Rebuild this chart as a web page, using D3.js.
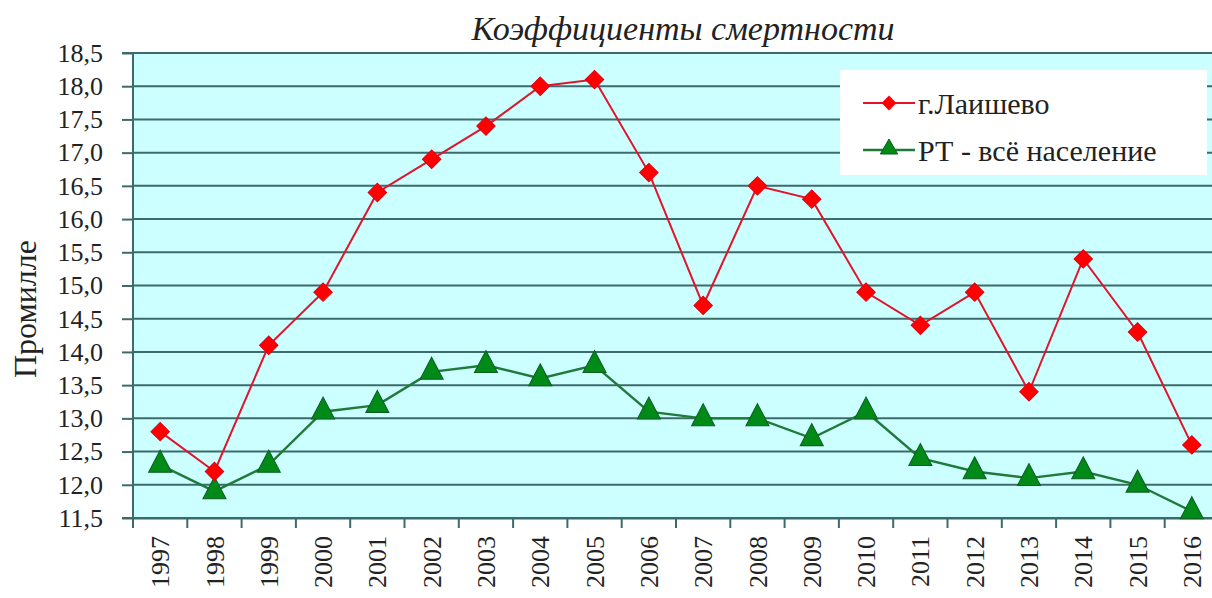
<!DOCTYPE html>
<html><head><meta charset="utf-8">
<script src="https://cdn.jsdelivr.net/npm/d3@7"></script>
<style>body{margin:0;background:#fff}svg{display:block}</style>
</head><body>
<script>
const years = ["1997","1998","1999","2000","2001","2002","2003","2004","2005","2006","2007","2008","2009","2010","2011","2012","2013","2014","2015","2016"];
const laishevo = [12.8,12.2,14.1,14.9,16.4,16.9,17.4,18.0,18.1,16.7,14.7,16.5,16.3,14.9,14.4,14.9,13.4,15.4,14.3,12.6];
const rt = [12.3,11.9,12.3,13.1,13.2,13.7,13.8,13.6,13.8,13.1,13.0,13.0,12.7,13.1,12.4,12.2,12.1,12.2,12.0,11.6];
const yTicks = [11.5,12.0,12.5,13.0,13.5,14.0,14.5,15.0,15.5,16.0,16.5,17.0,17.5,18.0,18.5];
const seriesNames = ["г.Лаишево","РТ - всё население"];
const title = "Коэффициенты смертности";
const yLabel = "Промилле";

const W = 1212, H = 598;
const pL = 133, pR = 1219, pT = 53, pB = 518;
const svg = d3.select("body").append("svg").attr("width", W).attr("height", H);
const font = '"Times New Roman", Times, "Liberation Serif", Tinos, "Noto Serif", "DejaVu Serif", serif';

const x = d3.scaleBand().domain(years).range([pL, pR]);
const y = d3.scaleLinear().domain([11.5, 18.5]).range([pB, pT]);

svg.append("rect").attr("x", pL).attr("y", pT).attr("width", pR-pL).attr("height", pB-pT).attr("fill", "#ccffff");

// gridlines
svg.append("g").selectAll("line").data(yTicks).join("line")
  .attr("x1", pL).attr("x2", pR).attr("y1", d=>y(d)).attr("y2", d=>y(d))
  .attr("stroke", "#3d6b6b").attr("stroke-width", 2);

// y axis
const yAxis = d3.axisLeft(y).tickValues(yTicks).tickSize(11).tickPadding(19)
  .tickFormat(d => d3.format(".1f")(d).replace(".", ","));
const gy = svg.append("g").attr("transform", `translate(${pL},0)`).call(yAxis);
gy.attr("font-family", null).attr("font-size", null);
gy.select(".domain").attr("stroke", "#3d6b6b").attr("stroke-width", 2).attr("d", `M-11,${pB}H0V${pT}H-11`);
gy.selectAll(".tick line").attr("stroke", "#3d6b6b").attr("stroke-width", 2);
gy.selectAll("text").style("font-family", font).style("font-size", "26px").attr("fill", "#222");

// x axis
const xAxis = d3.axisBottom(x).tickSize(0).tickPadding(10);
const gx = svg.append("g").attr("transform", `translate(0,${pB})`).call(xAxis);
gx.attr("font-family", null).attr("font-size", null);
gx.select(".domain").attr("stroke", "#3d6b6b").attr("stroke-width", 2);
gx.selectAll("text").style("font-family", font).style("font-size", "26px").attr("fill", "#222")
  .attr("transform", "rotate(-90)").attr("text-anchor", "end").attr("dy", "0.35em").attr("x", -18).attr("y", 0);
// boundary ticks
const bounds = years.map(d => x(d)).concat([pR]);
svg.append("g").selectAll("line").data(bounds).join("line")
  .attr("x1", d=>d).attr("x2", d=>d).attr("y1", pB).attr("y2", pB+10)
  .attr("stroke", "#3d6b6b").attr("stroke-width", 2);

const cx = d => x(d) + x.bandwidth()/2;

// lines
const line = d3.line().x((d,i)=>cx(years[i])).y(d=>y(d));
svg.append("path").datum(rt).attr("d", line).attr("fill","none").attr("stroke","#1f7a3a").attr("stroke-width",2.4);
svg.append("path").datum(laishevo).attr("d", line).attr("fill","none").attr("stroke","#e0142a").attr("stroke-width",2);

const tri = d3.symbol().type(d3.symbolTriangle).size(230);
const dia = d3.symbol().type(d3.symbolSquare).size(170);

svg.append("g").selectAll("path").data(rt).join("path")
  .attr("d", tri).attr("transform", (d,i)=>`translate(${cx(years[i])},${y(d)}) scale(1,1.1)`)
  .attr("fill","#008a17").attr("stroke","#0d5e1f").attr("stroke-width",1);
svg.append("g").selectAll("path").data(laishevo).join("path")
  .attr("d", dia).attr("transform", (d,i)=>`translate(${cx(years[i])},${y(d)}) rotate(45)`)
  .attr("fill","#ff0000").attr("stroke","#e00010").attr("stroke-width",1);

// title
svg.append("text").attr("x", 683).attr("y", 40).attr("text-anchor","middle")
  .style("font-family", font).style("font-style","italic").style("font-size", "34px").attr("fill","#222").text(title);

// y label
svg.append("text").attr("transform","translate(36,309) rotate(-90)").attr("text-anchor","middle")
  .style("font-family", font).style("font-size", "32px").attr("fill","#222").text(yLabel);

// legend
const lg = svg.append("g");
lg.append("rect").attr("x",840).attr("y",70).attr("width",367).attr("height",105).attr("fill","#fff");
const ly = [103, 150];
lg.append("line").attr("x1",863).attr("x2",915).attr("y1",ly[0]).attr("y2",ly[0]).attr("stroke","#e0142a").attr("stroke-width",2);
lg.append("path").attr("d", d3.symbol().type(d3.symbolSquare).size(110)).attr("transform",`translate(889,${ly[0]}) rotate(45)`).attr("fill","#ff0000");
lg.append("line").attr("x1",863).attr("x2",915).attr("y1",ly[1]).attr("y2",ly[1]).attr("stroke","#1f7a3a").attr("stroke-width",2.4);
lg.append("path").attr("d", d3.symbol().type(d3.symbolTriangle).size(130)).attr("transform",`translate(889,${ly[1]-1})`).attr("fill","#008a17").attr("stroke","#0d5e1f");
lg.selectAll("text.l").data(seriesNames).join("text").attr("class","l")
  .attr("x",918).attr("y",(d,i)=>ly[i]).attr("dy","0.35em")
  .style("font-family", font).style("font-size", "30px").attr("fill","#222").text(d=>d);
</script>
</body></html>
